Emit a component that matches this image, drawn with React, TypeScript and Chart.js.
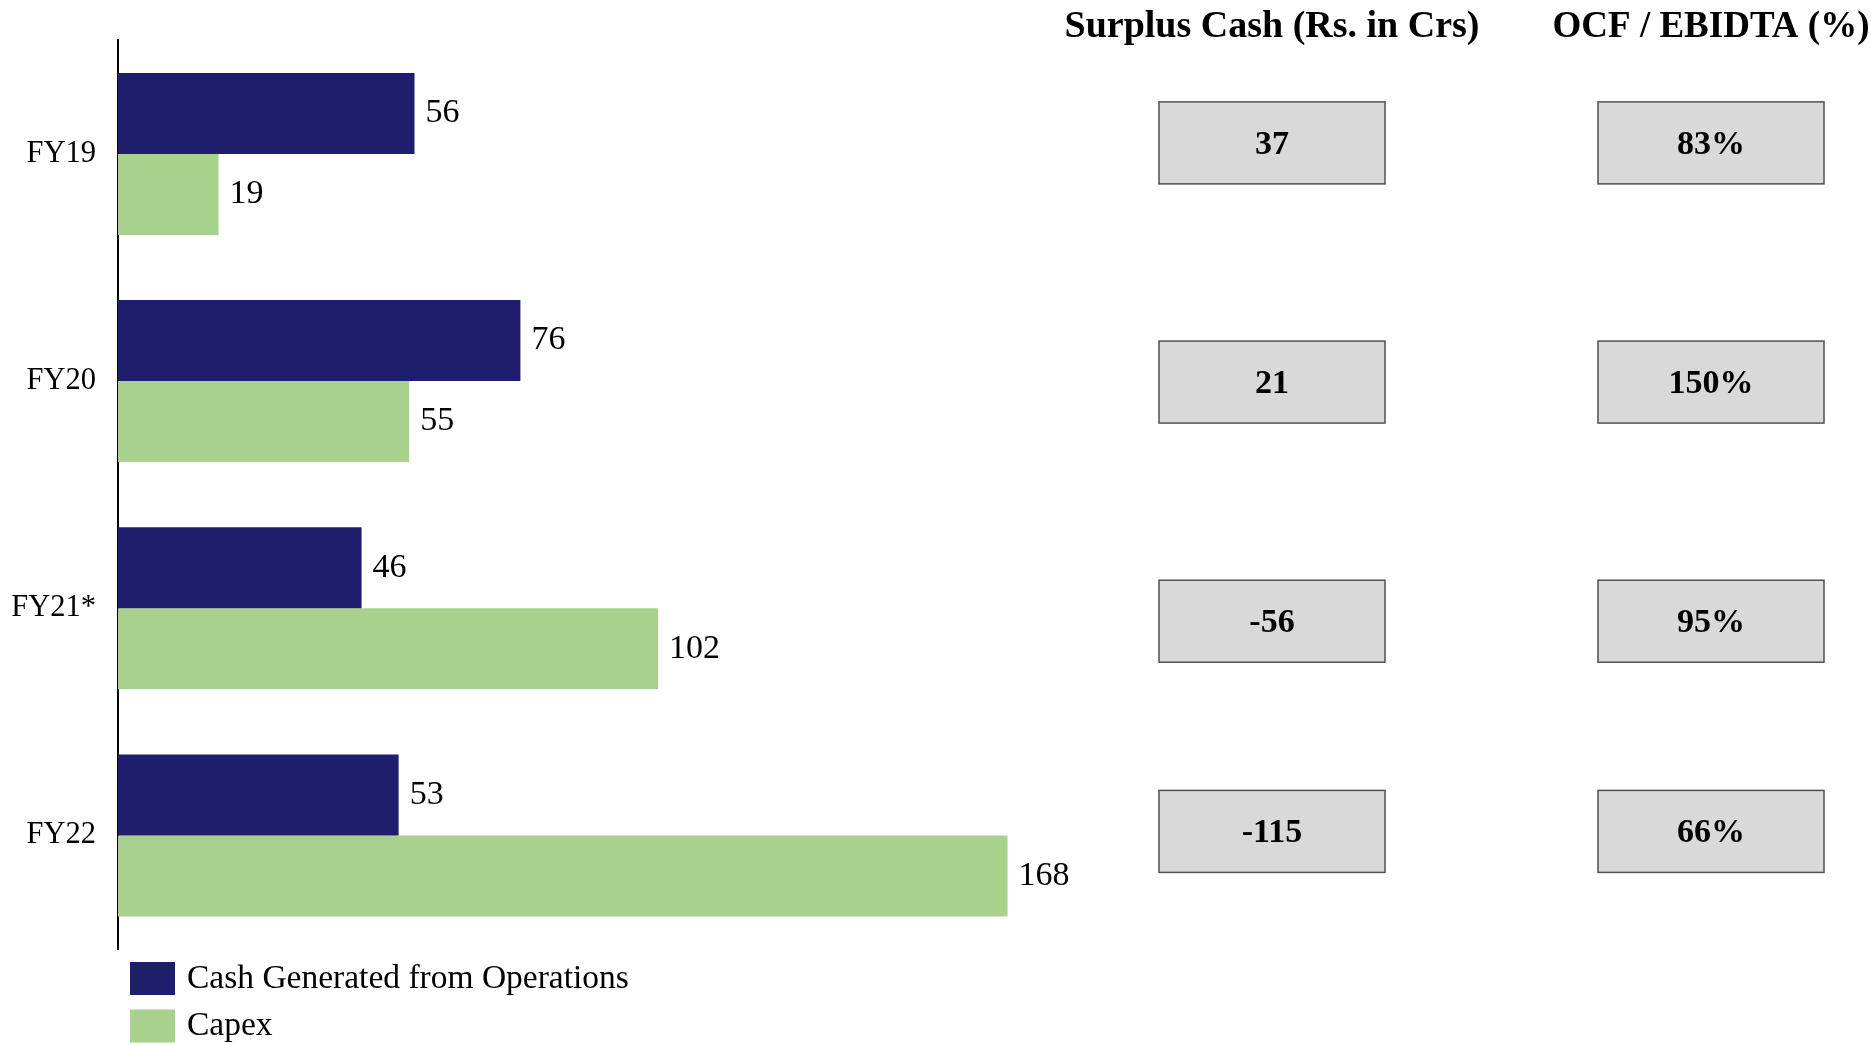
import React, { useEffect, useRef } from "react";
import { Chart, registerables } from "chart.js";

Chart.register(...registerables);

const categories = ["FY19", "FY20", "FY21*", "FY22"];
const cashFromOps = [56, 76, 46, 53];
const capex = [19, 55, 102, 168];
const surplusCash = ["37", "21", "-56", "-115"];
const ocfEbitda = ["83%", "150%", "95%", "66%"];
const seriesNames = ["Cash Generated from Operations", "Capex"];
const tableHeaders = ["Surplus Cash (Rs. in Crs)", "OCF / EBIDTA (%)"];

const BLUE = "#1F1E6D";
const GREEN = "#A9D18E";
const FONT = "'Liberation Serif', 'Times New Roman', serif";

const W = 1871;
const H = 1045;
// small vertical nudges of the side boxes relative to the category centres (layout only)
const BOX_NUDGE = [-11, 1, 13, -4];

const dataLabelPlugin = {
  id: "dataLabels",
  afterDatasetsDraw(chart: any) {
    const ctx = chart.ctx;
    ctx.save();
    ctx.font = `34px ${FONT}`;
    ctx.fillStyle = "#000";
    ctx.textAlign = "left";
    ctx.textBaseline = "middle";
    chart.data.datasets.forEach((ds: any, di: number) => {
      const meta = chart.getDatasetMeta(di);
      meta.data.forEach((el: any, i: number) => {
        ctx.fillText(String(ds.data[i]), el.x + 11, el.y);
      });
    });
    ctx.restore();
  },
};

const tablePlugin = {
  id: "sideTable",
  afterDraw(chart: any) {
    const ctx = chart.ctx;
    const yScale = chart.scales.y;
    const cols = [
      { x: 1159, w: 226, values: surplusCash, header: tableHeaders[0] },
      { x: 1598, w: 226, values: ocfEbitda, header: tableHeaders[1] },
    ];
    const boxH = 82;
    ctx.save();
    cols.forEach((c, ci) => {
      const cx = c.x + c.w / 2;
      ctx.font = `bold ${ci === 0 ? 38 : 37}px ${FONT}`;
      ctx.fillStyle = "#000";
      ctx.textAlign = "center";
      ctx.textBaseline = "alphabetic";
      ctx.fillText(c.header, cx, 37);
      c.values.forEach((v, i) => {
        const cy = yScale.getPixelForValue(i) + BOX_NUDGE[i];
        ctx.fillStyle = "#D9D9D9";
        ctx.fillRect(c.x, cy - boxH / 2, c.w, boxH);
        ctx.strokeStyle = "#505050";
        ctx.lineWidth = 1.5;
        ctx.strokeRect(c.x, cy - boxH / 2, c.w, boxH);
        ctx.fillStyle = "#000";
        ctx.font = `bold 34px ${FONT}`;
        ctx.textBaseline = "middle";
        ctx.fillText(v, cx, cy + 2);
      });
    });
    // legend
    const items = chart.data.datasets.map((ds: any) => ({
      label: ds.label,
      color: ds.backgroundColor,
    }));
    ctx.textAlign = "left";
    ctx.textBaseline = "middle";
    ctx.font = `33.5px ${FONT}`;
    items.forEach((it: any, i: number) => {
      const top = 962 + i * 47.5;
      ctx.fillStyle = it.color;
      ctx.fillRect(130, top, 45, 33);
      ctx.fillStyle = "#000";
      ctx.fillText(it.label, 187, top + 17);
    });
    ctx.restore();
  },
};

export default function App() {
  const ref = useRef<HTMLCanvasElement>(null);
  useEffect(() => {
    document.body.style.margin = "0";
    const chart = new Chart(ref.current as HTMLCanvasElement, {
      type: "bar",
      data: {
        labels: categories,
        datasets: [
          {
            label: seriesNames[0],
            data: cashFromOps,
            backgroundColor: BLUE,
            categoryPercentage: 0.713,
            barPercentage: 1,
          },
          {
            label: seriesNames[1],
            data: capex,
            backgroundColor: GREEN,
            categoryPercentage: 0.713,
            barPercentage: 1,
          },
        ],
      },
      options: {
        indexAxis: "y",
        responsive: false,
        animation: false,
        layout: { padding: { top: 39, bottom: 96, left: 0, right: W - 1177 } },
        plugins: {
          legend: { display: false },
          tooltip: { enabled: false },
        },
        scales: {
          x: {
            display: false,
            min: 0,
            max: 200,
          },
          y: {
            afterFit: (s: any) => {
              s.width = 118;
            },
            grid: { display: false, drawTicks: false },
            border: { display: true, color: "#000", width: 2 },
            ticks: {
              color: "#000",
              padding: 22,
              font: { family: FONT, size: 30.5 },
            },
          },
        },
      },
      plugins: [dataLabelPlugin, tablePlugin],
    });
    return () => chart.destroy();
  }, []);
  return (
    <div style={{ width: W, height: H, background: "#fff" }}>
      <canvas ref={ref} width={W} height={H} />
    </div>
  );
}
